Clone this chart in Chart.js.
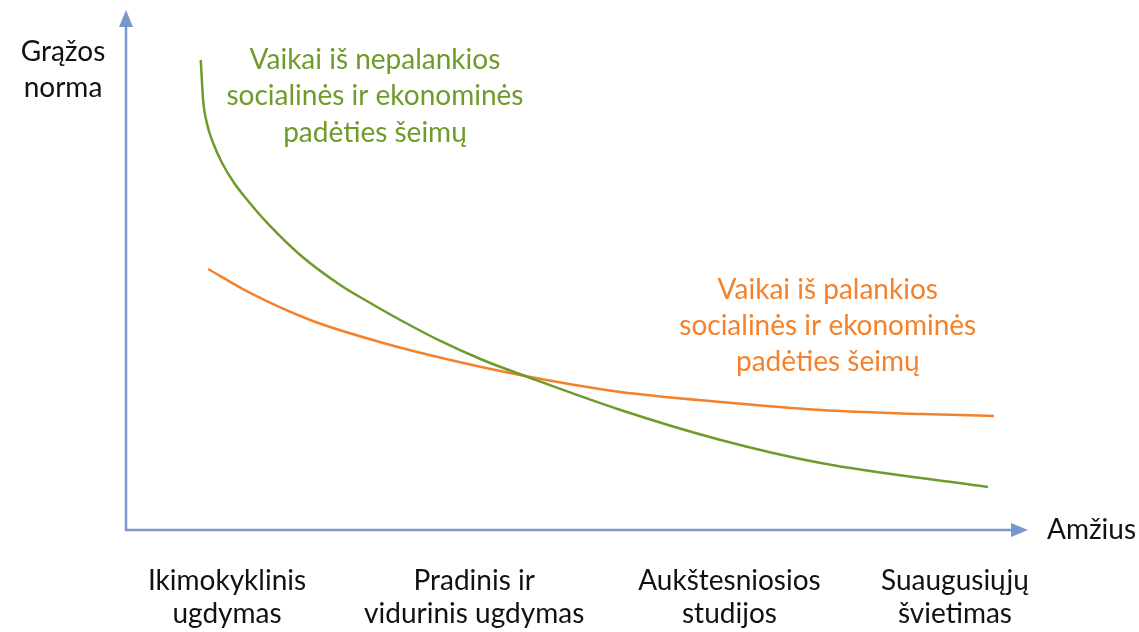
<!DOCTYPE html>
<html>
<head>
<meta charset="utf-8">
<script src="https://cdn.jsdelivr.net/npm/chart.js@4"></script>
<style>
  html, body { margin: 0; padding: 0; background: #fff; }
  #wrap { width: 1139px; height: 632px; }
</style>
</head>
<body>
<div id="wrap"><canvas id="grafikas"></canvas></div>
<script>
// Kategorijos po x ašimi
const kategorijos = [
    ['Ikimokyklinis', 'ugdymas'],
    ['Pradinis ir', 'vidurinis ugdymas'],
    ['Aukštesniosios', 'studijos'],
    ['Suaugusiųjų', 'švietimas']
];
const kategorijuPozicijos = [11.2, 38.6, 66.9, 91.9];

// Kreivė: vaikai iš nepalankios padėties šeimų
const nepalankiosX = [8.29, 8.55, 8.99, 9.66, 10.65, 11.99, 13.54, 15.76, 19.31, 23.75, 27.08, 30.41, 34.85, 39.29, 44.84, 54.83, 65.93, 77.03, 95.56];
const nepalankiosY = [90.38, 82.69, 78.08, 74.42, 70.58, 66.73, 63.27, 58.85, 52.88, 47.12, 43.65, 40.38, 36.35, 32.88, 29.23, 23.08, 17.31, 12.88, 8.27];

// Kreivė: vaikai iš palankios padėties šeimų
const palankiosX = [9.10, 13.76, 20.42, 28.52, 35.96, 44.84, 54.83, 65.93, 77.03, 88.12, 96.23];
const palankiosY = [50.19, 45.58, 40.38, 35.96, 32.69, 29.42, 26.54, 24.62, 23.08, 22.31, 21.92];

const nepalankiosTekstas = ['Vaikai iš nepalankios', 'socialinės ir ekonominės', 'padėties šeimų'];
const palankiosTekstas = ['Vaikai iš palankios', 'socialinės ir ekonominės', 'padėties šeimų'];
const yAsiesPavadinimas = ['Grąžos', 'norma'];
const xAsiesPavadinimas = 'Amžius';

const spalvaAsys = '#7a97cd';
const spalvaZalia = '#6f9b2b';
const spalvaOranzine = '#f4812b';
const sriftas = 'Lato, "Open Sans", sans-serif';

function taskai(xs, ys) {
    return xs.map((x, i) => ({ x: x, y: ys[i] }));
}

// Ašys su rodyklėmis ir užrašai
const asiuPapildinys = {
    id: 'asys',
    afterDraw(chart) {
        const ctx = chart.ctx;
        const sx = chart.scales.x;
        const sy = chart.scales.y;
        const x0 = sx.getPixelForValue(0);
        const y0 = sy.getPixelForValue(0);
        const xGalas = sx.getPixelForValue(100);
        const yGalas = sy.getPixelForValue(100);

        ctx.save();
        ctx.strokeStyle = spalvaAsys;
        ctx.fillStyle = spalvaAsys;
        ctx.lineWidth = 2.5;
        ctx.beginPath();
        ctx.moveTo(x0, yGalas + 14);
        ctx.lineTo(x0, y0);
        ctx.lineTo(xGalas - 14, y0);
        ctx.stroke();

        ctx.beginPath();
        ctx.moveTo(x0, yGalas);
        ctx.lineTo(x0 - 7, yGalas + 17);
        ctx.lineTo(x0 + 7, yGalas + 17);
        ctx.closePath();
        ctx.fill();

        ctx.beginPath();
        ctx.moveTo(xGalas, y0);
        ctx.lineTo(xGalas - 17, y0 - 7);
        ctx.lineTo(xGalas - 17, y0 + 7);
        ctx.closePath();
        ctx.fill();

        ctx.font = '28px ' + sriftas;
        ctx.textBaseline = 'middle';
        ctx.textAlign = 'center';

        ctx.fillStyle = '#111';
        yAsiesPavadinimas.forEach((t, i) => ctx.fillText(t, 63, sy.getPixelForValue(91.9 - i * 6.9)));
        ctx.textAlign = 'left';
        ctx.fillText(xAsiesPavadinimas, xGalas + 19, y0);
        ctx.textAlign = 'center';

        ctx.fillStyle = spalvaZalia;
        nepalankiosTekstas.forEach((t, i) => ctx.fillText(t, sx.getPixelForValue(27.6), sy.getPixelForValue(90.4 - i * 7.0)));

        ctx.fillStyle = spalvaOranzine;
        palankiosTekstas.forEach((t, i) => ctx.fillText(t, sx.getPixelForValue(77.8), sy.getPixelForValue(46.15 - i * 6.95)));
        ctx.restore();
    }
};

const ctx = document.getElementById('grafikas').getContext('2d');
const grafikas = new Chart(ctx, {
    type: 'line',
    data: {
        datasets: [{
            label: 'Vaikai iš nepalankios socialinės ir ekonominės padėties šeimų',
            data: taskai(nepalankiosX, nepalankiosY),
            borderColor: spalvaZalia,
            borderWidth: 2.5,
            pointRadius: 0,
            cubicInterpolationMode: 'monotone',
            fill: false
        }, {
            label: 'Vaikai iš palankios socialinės ir ekonominės padėties šeimų',
            data: taskai(palankiosX, palankiosY),
            borderColor: spalvaOranzine,
            borderWidth: 2.5,
            pointRadius: 0,
            cubicInterpolationMode: 'monotone',
            fill: false
        }]
    },
    options: {
        responsive: true,
        maintainAspectRatio: false,
        animation: false,
        events: [],
        layout: { padding: { left: 126, right: 111, top: 10, bottom: 0 } },
        plugins: {
            legend: { display: false },
            tooltip: { enabled: false }
        },
        scales: {
            x: {
                type: 'linear',
                min: 0,
                max: 100,
                grid: { display: false, drawTicks: false },
                border: { display: false },
                afterBuildTicks: (s) => { s.ticks = kategorijuPozicijos.map(v => ({ value: v })); },
                afterFit: (s) => { s.height = 102; },
                ticks: {
                    autoSkip: false,
                    maxRotation: 0,
                    padding: 34,
                    color: '#111',
                    font: { family: sriftas, size: 28, lineHeight: 1.18 },
                    callback: (v, i) => kategorijos[i]
                }
            },
            y: {
                display: false,
                min: 0,
                max: 100
            }
        }
    },
    plugins: [asiuPapildinys]
});
</script>
</body>
</html>
